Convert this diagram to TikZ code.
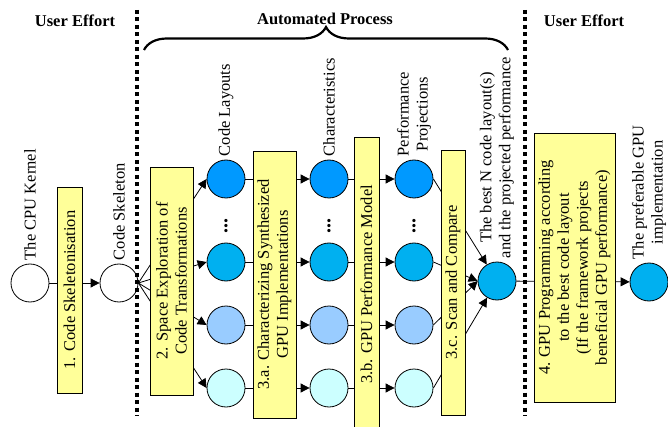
\documentclass[tikz,border=0pt]{standalone}
\usepackage{fontspec}
\setmainfont{Liberation Serif}
\usetikzlibrary{arrows.meta}
\usetikzlibrary{decorations.pathreplacing}
\usepackage{xcolor}

\definecolor{rowA}{HTML}{0099FF}
\definecolor{rowB}{HTML}{00B0F0}
\definecolor{rowC}{HTML}{99CCFF}
\definecolor{rowD}{HTML}{CCFFFF}
\definecolor{stepfill}{HTML}{FFFF99}

\tikzset{
 blob/.style={circle, draw, minimum size=38pt, inner sep=0pt},
 stepbox/.style={draw, fill=stepfill, rotate=90, align=center, inner sep=1pt},
 lbl/.style={rotate=90, anchor=west, align=center, inner sep=3pt},
 sep/.style={line width=4.5pt, dash pattern=on 4pt off 3.5pt},
 title/.style={font=\fontsize{16.5}{19}\selectfont\bfseries},
}

\begin{document}
\begin{tikzpicture}[x=1pt, y=-1pt, font=\fontsize{16.5}{19}\selectfont, >={Triangle[length=9pt,width=9pt]}, line width=.8pt]
\useasboundingbox (0,0) rectangle (668,427);

\node[title] (ueL) at (75,21) {User Effort};
\node[title] (auto) at (325,19) {Automated Process};
\node[title] (ueR) at (584,21) {User Effort};
\draw[decorate, decoration={brace, amplitude=23pt}, line width=2.2pt] (144,50) -- (508,50);

% circles
\node[blob, fill=white] (kernel) at (30,283) {};
\node[blob, fill=white] (skel) at (119,283) {};
\foreach \r/\y/\c in {1/179/rowA, 2/262/rowB, 3/325/rowC, 4/388/rowD} {
 \node[blob, fill=\c] (lay\r) at (226,\y) {};
 \node[blob, fill=\c] (chr\r) at (329,\y) {};
 \node[blob, fill=\c] (prj\r) at (414,\y) {};
}
\node[blob, fill=rowB] (best) at (497,281) {};
\node[blob, fill=rowB] (pref) at (649,282) {};
\foreach \x/\n in {226/dA, 329/dB, 414/dC}
 \node[rotate=90, font=\fontsize{20}{20}\selectfont\bfseries, inner sep=0pt] (\n) at (\x,226) {...};

% connectors
\draw[->] (kernel) -- (skel);
\foreach \r in {1,...,4} {
 \draw[->] (skel.east) -- (lay\r.west);
 \draw[->] (lay\r) -- (chr\r);
 \draw[->] (chr\r) -- (prj\r);
}
\draw[->] (prj1.east) -- (best);
\draw[->] (prj2.east) -- (best.west);
\draw[->] (prj3.east) -- (best.west);
\draw[->] (prj4.east) -- (best);
\draw[->] (best) -- (pref);

\draw[sep] (137,10) -- (137,416);
\draw[sep] (525,10) -- (525,416);

% steps
\node[stepbox, minimum width=206pt, minimum height=25pt] (s1) at (69.5,290) {1. Code Skeletonisation};
\node[stepbox, minimum width=228pt, minimum height=43pt] (s2) at (171.5,281) {2. Space Exploration of\\Code Transformations};
\node[stepbox, minimum width=267pt, minimum height=43pt] (s3a) at (274.5,284.5) {3.a. Characterizing Synthesized\\GPU Implementations};
\node[stepbox, minimum width=295pt, minimum height=25pt] (s3b) at (366.5,284.5) {3.b. GPU Performance Model};
\node[stepbox, minimum width=265pt, minimum height=24pt] (s3c) at (453,282.5) {3.c. Scan and Compare};
\node[stepbox, minimum width=269pt, minimum height=81pt] (s4) at (574.5,267.5) {4. GPU Programming according\\to the best code layout\\(If the framework projects\\beneficial GPU performance)};

% labels
\node[lbl] (tk) at (kernel.north) {The CPU Kernel};
\node[lbl] (tsk) at (skel.north) {Code Skeleton};
\node[lbl] (tlay) at (lay1.north) {Code Layouts};
\node[lbl] (tchr) at (chr1.north) {Characteristics};
\node[lbl] (tprj) at (prj1.north) {Performance\\Projections};
\node[lbl] (tbest) at (best.north) {The best N code layout(s)\\and the projected performance};
\node[lbl] (tpref) at (pref.north) {The preferable GPU\\implementation};
\end{tikzpicture}
\end{document}
